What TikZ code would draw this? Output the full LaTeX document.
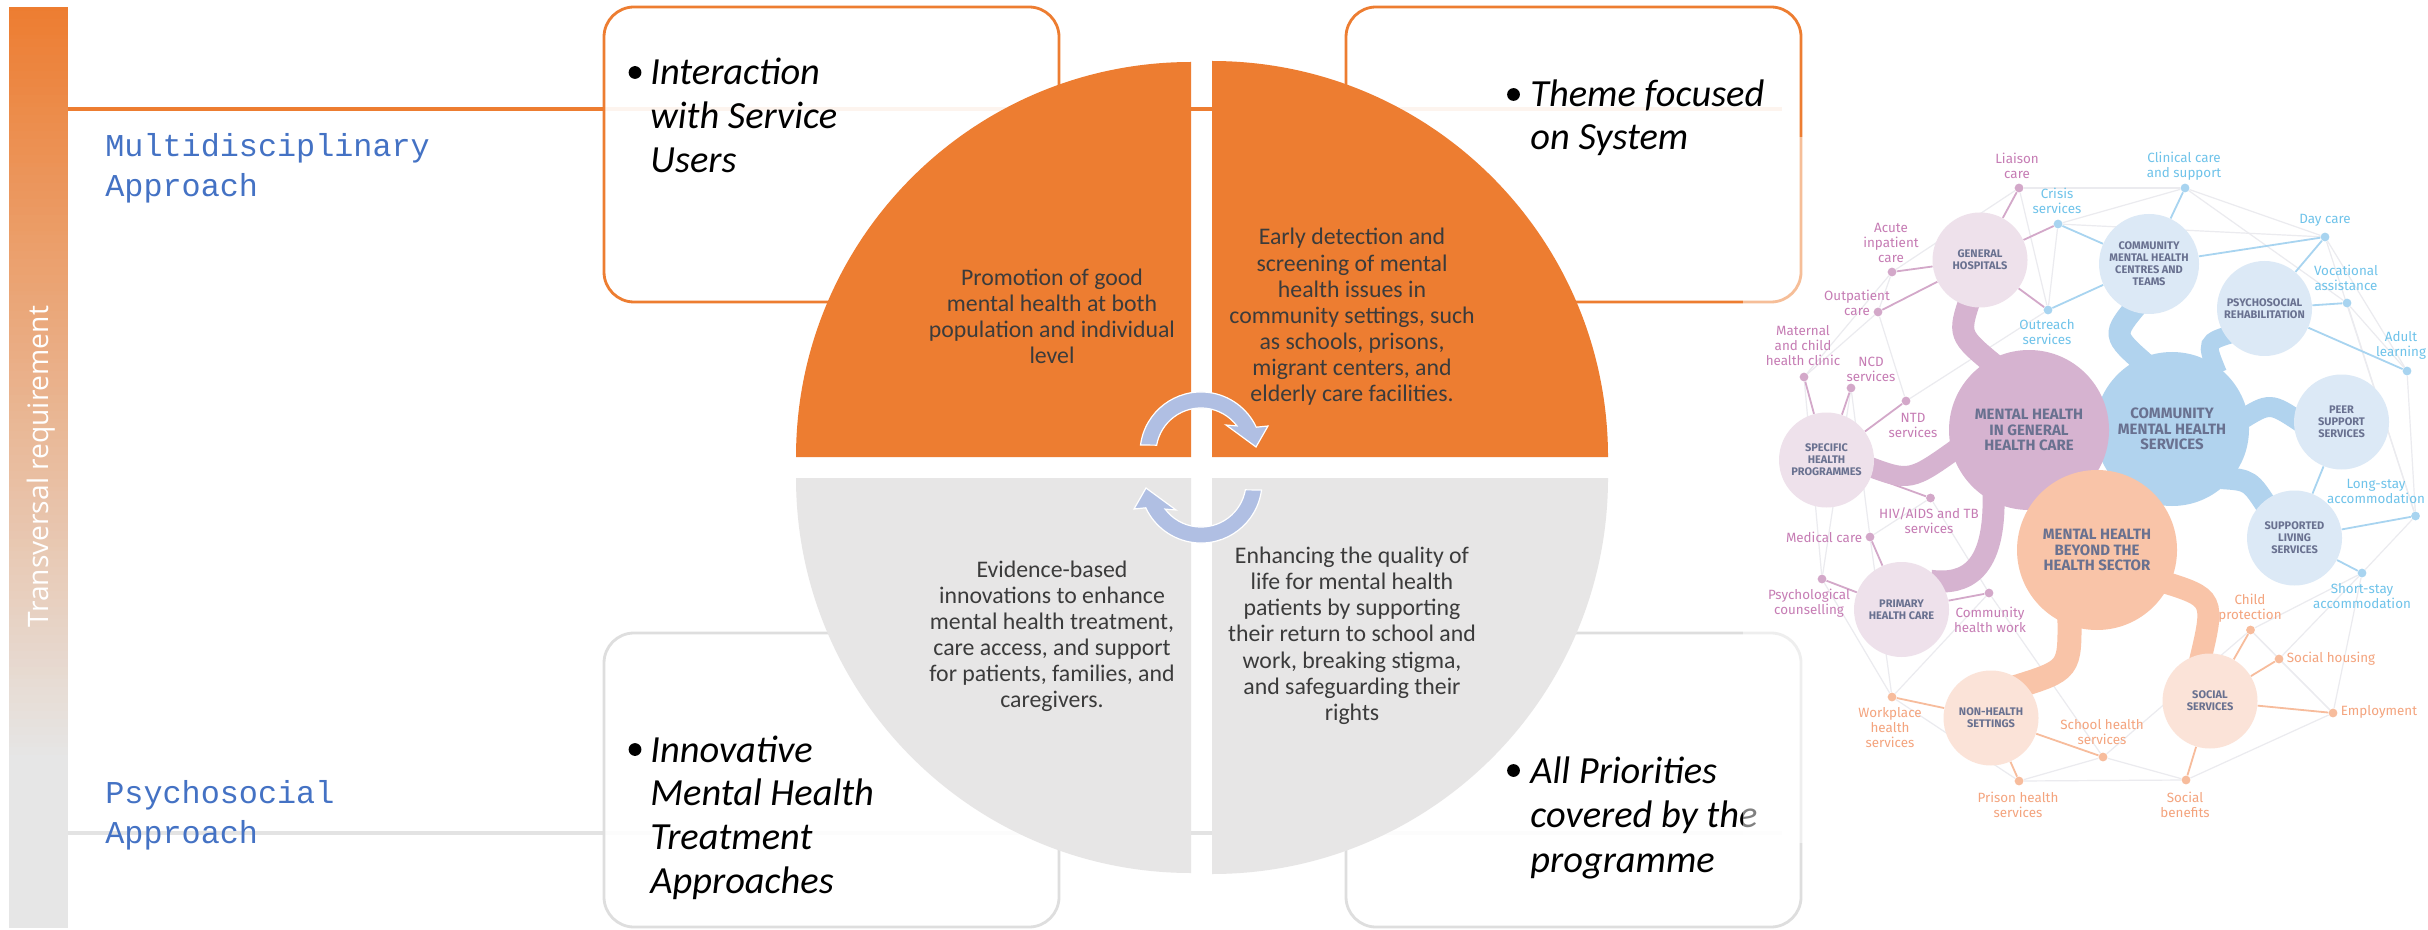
\documentclass[tikz,border=0pt]{standalone}
\usepackage{fontspec}
\setmainfont{Carlito}
\newfontfamily\approachfont{Liberation Mono}
\newfontfamily\barfont{Open Sans}
\newfontfamily\netfont{Fira Sans}
\usetikzlibrary{calc}

\pgfdeclarelayer{base}
\pgfdeclarelayer{links}
\pgfsetlayers{base,links,main}

% palette
\definecolor{accOrange}{HTML}{ED7D31}
\definecolor{barGray}{HTML}{E6E6E6}
\definecolor{quadGray}{HTML}{E7E6E6}
\definecolor{boxGray}{HTML}{DEDEDE}
\definecolor{ruleGray}{HTML}{E3E3E3}
\definecolor{labBlue}{HTML}{4472C4}
\definecolor{quadText}{HTML}{3B3B3B}
\definecolor{cycleBlue}{HTML}{B0BFE3}
\definecolor{pkText}{HTML}{C67CB4}
\definecolor{pkLine}{HTML}{D3A8C9}
\definecolor{pkBig}{HTML}{D6B3D0}
\definecolor{pkSmall}{HTML}{EEE1EB}
\definecolor{blText}{HTML}{6FC3EA}
\definecolor{blLine}{HTML}{A8D4F0}
\definecolor{blBig}{HTML}{B1D3EE}
\definecolor{blSmall}{HTML}{DCE9F6}
\definecolor{peText}{HTML}{F4A47E}
\definecolor{peLine}{HTML}{F7BC9C}
\definecolor{peBig}{HTML}{F9C4A8}
\definecolor{peSmall}{HTML}{FBE3D8}
\definecolor{hubText}{HTML}{697190}
\definecolor{webGray}{HTML}{EBEBEF}

% one node per text line, stacked by baseline
\newcommand\stacklines[6]{%
  \foreach \lineitem [count=\k from 0] in {#6}{%
    \node[#2] (#1-\k) at (#3,{#4+#5*\k}) {\lineitem};}}

\begin{document}
\begin{tikzpicture}[x=0.5pt,y=-0.5pt,
  quadtext/.style={font=\fontsize{11.9}{12.9}\selectfont, text=quadText, inner sep=0pt, anchor=base},
  boxtext/.style={font=\itshape\fontsize{19.2}{21.8}\selectfont, inner sep=0pt, anchor=base west},
  bulletmark/.style={circle, fill=black, inner sep=0pt, minimum size=6.4pt},
  approach/.style={font=\approachfont\fontsize{15.9}{20}\selectfont, text=labBlue, inner sep=0pt, anchor=base west},
  orangebox/.style={draw=accOrange, line width=1.4pt, fill=white, fill opacity=0.92, rounded corners=15pt},
  graybox/.style={draw=boxGray, line width=1.4pt, fill=white, fill opacity=0.92, rounded corners=15pt},
  hub/.style={circle, inner sep=0pt, align=center, text=hubText, minimum size=47.5pt,
    font=\netfont\bfseries\fontsize{5.5}{6}\selectfont},
  bighub/.style={hub, font=\netfont\bfseries\fontsize{7.5}{7.6}\selectfont},
  netlab/.style={inner sep=0pt, align=center, font=\netfont\fontsize{6.7}{7.5}\selectfont},
  pk/.style={netlab, text=pkText},
  bl/.style={netlab, text=blText},
  pe/.style={netlab, text=peText},
  dotnode/.style={circle, inner sep=0pt, minimum size=4.4pt},
  web/.style={draw=webGray, line width=0.6pt},
  thinlink/.style={line width=0.9pt},
  band/.style={line width=11pt, shorten <=-5pt, shorten >=-5pt}]

\useasboundingbox (0,0) rectangle (2428,930);

\begin{pgfonlayer}{base}
\fill[white] (0,0) rectangle (2428,930);

% vertical gradient bar
\foreach \i in {0,...,229}{
  \pgfmathtruncatemacro\pct{max(0,min(100,round((751-4*\i)/7.53)))}
  \fill[accOrange!\pct!barGray] (9,{7+4*\i}) rectangle (68,{7+4*\i+4.6});
}
\node[rotate=90, anchor=base, text=white, inner sep=0pt,
  font=\barfont\fontsize{14.1}{14.5}\selectfont] (transversal) at (48,466.5) {Transversal requirement};

% horizontal rules
\draw[accOrange, line width=1.7pt] (68,109) -- (1782,109);
\draw[ruleGray, line width=1.7pt] (68,833) -- (1782,833);

% corner boxes
\path[orangebox] (604,7) rectangle (1059,302);
\path[orangebox] (1346,7) rectangle (1801,302);
\path[graybox] (604,633) rectangle (1059,927);
\path[graybox] (1346,633) rectangle (1801,927);

% box texts
\node[bulletmark] (tlBullet) at (635,72.5) {};
\stacklines{tl}{boxtext}{650}{85}{43.6}{Interaction, with Service, Users}
\node[bulletmark] (trBullet) at (1513.5,94.5) {};
\stacklines{tr}{boxtext}{1530}{107}{43}{Theme focused, on System}
\node[bulletmark] (blBullet) at (635,749.5) {};
\stacklines{bl}{boxtext}{650}{762}{43.7}{Innovative, Mental Health, Treatment, Approaches}
\node[bulletmark] (brBullet) at (1513.5,770.5) {};
\stacklines{br}{boxtext}{1530}{783}{44.5}{All Priorities, covered by the, programme}

% approach labels
\stacklines{multi}{approach}{105}{157}{40}{Multidisciplinary, Approach}
\stacklines{psycho}{approach}{105}{803}{40}{Psychosocial, Approach}

% four quarter discs
\fill[accOrange] (1191,457) -- (796,457) arc[start angle=180, end angle=270, radius=395] -- cycle;
\fill[accOrange] (1212,457) -- (1608,457) arc[start angle=0, end angle=-90, radius=396] -- cycle;
\fill[quadGray] (1191,478) -- (796,478) arc[start angle=180, end angle=90, radius=395] -- cycle;
\fill[quadGray] (1212,478) -- (1608,478) arc[start angle=0, end angle=90, radius=396] -- cycle;

% quarter texts
\stacklines{q1}{quadtext}{1052}{286}{25.7}{Promotion of good, mental health at both, population and individual, level}
\stacklines{q2}{quadtext}{1352}{245}{26.1}{Early detection and, screening of mental, health issues in, {community settings, such}, {as schools, prisons,}, {migrant centers, and}, elderly care facilities.}
\stacklines{q3}{quadtext}{1052}{577}{26}{Evidence-based, innovations to enhance, {mental health treatment,}, {care access, and support}, {for patients, families, and}, caregivers.}
\stacklines{q4}{quadtext}{1352}{563}{26.3}{Enhancing the quality of, life for mental health, patients by supporting, their return to school and, {work, breaking stigma,}, and safeguarding their, rights}

% cycle arrows
\fill[cycleBlue, draw=white, line width=0.6pt]
  (1140.5,445) arc[start angle=187.5, end angle=335, radius=61]
  -- (1268,426) -- (1256,447) -- (1226,425) -- (1236.9,425.9)
  arc[start angle=323, end angle=190, radius=45] -- cycle;
\begin{scope}[rotate around={180:(1201,467.5)}]
\fill[cycleBlue, draw=white, line width=0.6pt]
  (1140.5,445) arc[start angle=187.5, end angle=335, radius=61]
  -- (1268,426) -- (1256,447) -- (1226,425) -- (1236.9,425.9)
  arc[start angle=323, end angle=190, radius=45] -- cycle;
\end{scope}

% translucent backing of the services map
\fill[white, opacity=0.5] (1743,137) rectangle (2428,843);
\end{pgfonlayer}

% ---------- services map ----------
% large hubs
\node[bighub, minimum size=77pt, fill=blBig] (cmhs) at (2172,429) {COMMUNITY\\MENTAL HEALTH\\SERVICES};
\node[bighub, minimum size=80pt, fill=pkBig] (mhg) at (2029,430) {MENTAL HEALTH\\IN GENERAL\\HEALTH CARE};
\node[bighub, minimum size=80pt, fill=peBig] (mhb) at (2097,550) {MENTAL HEALTH\\BEYOND THE\\HEALTH SECTOR};
% small hubs
\node[hub, fill=pkSmall] (gh) at (1980,260) {GENERAL\\HOSPITALS};
\node[hub, fill=blSmall, minimum size=50pt] (cmhct) at (2149,264) {COMMUNITY\\MENTAL HEALTH\\CENTRES AND\\TEAMS};
\node[hub, fill=blSmall] (psr) at (2264.5,308.5) {PSYCHOSOCIAL\\REHABILITATION};
\node[hub, fill=blSmall] (peer) at (2341.5,422) {PEER\\SUPPORT\\SERVICES};
\node[hub, fill=pkSmall] (shp) at (1826.5,460) {SPECIFIC\\HEALTH\\PROGRAMMES};
\node[hub, fill=pkSmall] (phc) at (1901.5,609.5) {PRIMARY\\HEALTH CARE};
\node[hub, fill=blSmall] (sls) at (2294.5,538) {SUPPORTED\\LIVING\\SERVICES};
\node[hub, fill=peSmall] (ss) at (2210,701) {SOCIAL\\SERVICES};
\node[hub, fill=peSmall] (nhs) at (1991,718) {NON-HEALTH\\SETTINGS};

% service dots
\node[dotnode, fill=pkLine] (dLiaison) at (2019,188) {};
\node[dotnode, fill=pkLine] (dAcute) at (1892,272) {};
\node[dotnode, fill=pkLine] (dOutpat) at (1878,312) {};
\node[dotnode, fill=pkLine] (dMaternal) at (1804,377) {};
\node[dotnode, fill=pkLine] (dNCD) at (1851,388) {};
\node[dotnode, fill=pkLine] (dNTD) at (1906,401) {};
\node[dotnode, fill=pkLine] (dHIV) at (1930.5,498) {};
\node[dotnode, fill=pkLine] (dMedical) at (1870,537) {};
\node[dotnode, fill=pkLine] (dPsych) at (1822,579) {};
\node[dotnode, fill=pkLine] (dCHW) at (1989,593) {};
\node[dotnode, fill=blLine] (dCrisis) at (2058,224) {};
\node[dotnode, fill=blLine] (dClinical) at (2185,188) {};
\node[dotnode, fill=blLine] (dDay) at (2325,237) {};
\node[dotnode, fill=blLine] (dOutreach) at (2048,310) {};
\node[dotnode, fill=blLine] (dVoc) at (2347,303) {};
\node[dotnode, fill=blLine] (dAdult) at (2407,371) {};
\node[dotnode, fill=blLine] (dLong) at (2415.5,516) {};
\node[dotnode, fill=blLine] (dShort) at (2362,573) {};
\node[dotnode, fill=peLine] (dChild) at (2250.5,630) {};
\node[dotnode, fill=peLine] (dHousing) at (2279,659) {};
\node[dotnode, fill=peLine] (dEmploy) at (2333,713) {};
\node[dotnode, fill=peLine] (dBenefits) at (2186,780) {};
\node[dotnode, fill=peLine] (dWork) at (1892,697) {};
\node[dotnode, fill=peLine] (dSchool) at (2103,757) {};
\node[dotnode, fill=peLine] (dPrison) at (2019,781) {};

% service labels
\node[pk] (lLiaison) at (2017,166) {Liaison\\care};
\node[bl] (lCrisis) at (2057,201) {Crisis\\services};
\node[bl] (lClinical) at (2184,166) {Clinical care\\and support};
\node[bl] (lDay) at (2325,220) {Day care};
\node[pk] (lAcute) at (1891,243) {Acute\\inpatient\\care};
\node[pk] (lOutpat) at (1857,303) {Outpatient\\care};
\node[bl] (lOutreach) at (2047,332) {Outreach\\services};
\node[bl] (lVoc) at (2346,278) {Vocational\\assistance};
\node[bl] (lAdult) at (2401,345) {Adult\\learning};
\node[pk] (lMaternal) at (1803,346) {Maternal\\and child\\health clinic};
\node[pk] (lNCD) at (1871,369) {NCD\\services};
\node[pk] (lNTD) at (1913,425) {NTD\\services};
\node[pk] (lHIV) at (1929,521) {HIV/AIDS and TB\\services};
\node[pk] (lMedical) at (1824,537) {Medical care};
\node[pk] (lPsych) at (1809,603) {Psychological\\counselling};
\node[pk] (lCHW) at (1990,620) {Community\\health work};
\node[bl] (lLong) at (2376,491) {Long-stay\\accommodation};
\node[bl] (lShort) at (2362,596) {Short-stay\\accommodation};
\node[pe] (lChild) at (2250,608) {Child\\protection};
\node[pe] (lHousing) at (2331,659) {Social housing};
\node[pe] (lEmploy) at (2379,712) {Employment};
\node[pe] (lWork) at (1890,728) {Workplace\\health\\services};
\node[pe] (lSchool) at (2102,732) {School health\\services};
\node[pe] (lPrison) at (2018,805) {Prison health\\services};
\node[pe] (lBenefits) at (2185,805) {Social\\benefits};

\begin{pgfonlayer}{links}
% faint web between services
\foreach \a/\b in {dLiaison/dClinical, dLiaison/dAcute, dCrisis/dClinical, dClinical/dDay,
  dDay/dAdult, dVoc/dAdult, dAdult/dLong, dLong/dShort, dShort/dEmploy, dEmploy/dHousing,
  dHousing/dChild, dEmploy/dBenefits, dBenefits/dPrison, dPrison/dWork, dWork/dPsych,
  dPsych/dMaternal, dMaternal/dOutpat, dOutpat/dAcute, dNCD/dMedical, dMedical/dWork,
  dSchool/dBenefits, dSchool/dChild, dCHW/dSchool, dHIV/dCHW, dNTD/dOutreach,
  dOutreach/dCrisis, dLiaison/dOutreach, dCrisis/dDay, dVoc/dLong, dChild/dShort,
  dHousing/dShort, dPsych/dNCD, dWork/dCHW, dPrison/dSchool, dAcute/dMaternal,
  dOutpat/dNTD, dClinical/dVoc, dDay/dLong, dMedical/dHIV, dChild/dEmploy}
  \draw[web] (\a) -- (\b);

% hub to service links
\foreach \b in {dLiaison, dCrisis, dAcute, dOutpat, dOutreach} \draw[thinlink, pkLine] (gh) -- (\b);
\foreach \b in {dCrisis, dOutreach, dClinical, dDay} \draw[thinlink, blLine] (cmhct) -- (\b);
\foreach \b in {dDay, dVoc, dAdult} \draw[thinlink, blLine] (psr) -- (\b);
\foreach \b in {dMaternal, dNCD, dNTD, dHIV} \draw[thinlink, pkLine] (shp) -- (\b);
\foreach \b in {dMedical, dPsych, dCHW} \draw[thinlink, pkLine] (phc) -- (\b);
\foreach \b in {dLong, dShort} \draw[thinlink, blLine] (sls) -- (\b);
\draw[thinlink, blLine] (peer) -- (sls);
\foreach \b in {dChild, dHousing, dEmploy, dBenefits} \draw[thinlink, peLine] (ss) -- (\b);
\foreach \b in {dWork, dSchool, dPrison} \draw[thinlink, peLine] (nhs) -- (\b);

% thick branches between hubs
\draw[band, pkBig] (gh.255) .. controls (1958,335) .. (mhg.120);
\draw[band, pkBig, line width=10pt] (shp.-10) .. controls (1910,482) .. (mhg.196);
\draw[band, pkBig] (mhg.244) .. controls (1996,572) and (1965,585) .. (phc.35);
\draw[band, blBig] (cmhct.250) .. controls (2112,335) .. (cmhs.115);
\draw[band, blBig, line width=9pt] (psr.215) .. controls (2205,342) .. (cmhs.57);
\draw[band, blBig, line width=10pt] (cmhs.10) .. controls (2270,402) .. (peer.175);
\draw[band, blBig] (cmhs.-40) .. controls (2250,480) .. (sls.130);
\draw[band, peBig, line width=12pt] (mhb.250) .. controls (2070,670) .. (nhs.45);
\draw[band, peBig] (mhb.-25) .. controls (2215,598) .. (ss.100);
\end{pgfonlayer}
\end{tikzpicture}
\end{document}
